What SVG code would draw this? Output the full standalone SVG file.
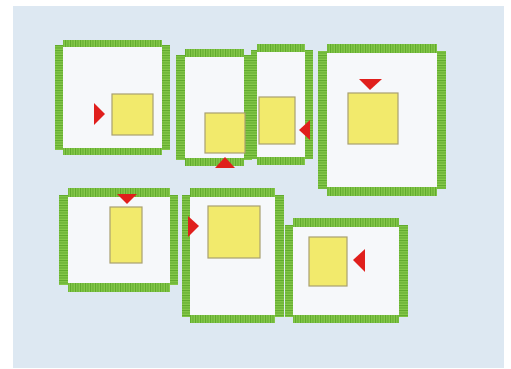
<svg xmlns="http://www.w3.org/2000/svg" width="511" height="369" viewBox="0 0 511 369">
<defs>
<pattern id="pv" patternUnits="userSpaceOnUse" width="2.5" height="4"><rect width="2.5" height="4" fill="#86c94a"/><rect width="1" height="4" fill="#5ea82c"/></pattern>
<pattern id="ph" patternUnits="userSpaceOnUse" width="4" height="2.5"><rect width="4" height="2.5" fill="#86c94a"/><rect width="4" height="1" fill="#5ea82c"/></pattern>
</defs>
<style>
.h{fill:url(#pv)}
.v{fill:url(#ph)}
.b{fill:#f6f8fa}
.y{fill:#f2ea6c;stroke:#a8a070;stroke-width:1.2}
.t{fill:#e01f1c}
</style>
<rect x="0" y="0" width="511" height="369" fill="#ffffff"/>
<rect x="13" y="6" width="491" height="362" fill="#dde8f2"/>
<g id="chip1">
<rect class="h" x="63" y="40" width="99" height="7"/>
<rect class="h" x="63" y="148" width="99" height="7"/>
<rect class="v" x="55" y="45" width="8" height="105"/>
<rect class="v" x="162" y="45" width="8" height="105"/>
<rect class="b" x="63" y="47" width="99" height="101"/>
<rect class="y" x="112" y="94" width="41" height="41"/>
<polygon class="t" points="94,103 105,114 94,125"/>
</g>
<g id="chip2">
<rect class="h" x="185" y="49" width="59" height="8"/>
<rect class="h" x="185" y="158" width="59" height="8"/>
<rect class="v" x="176" y="55" width="9" height="105"/>
<rect class="v" x="244" y="55" width="8" height="105"/>
<rect class="b" x="185" y="57" width="59" height="101"/>
<rect class="y" x="205" y="113" width="40" height="40"/>
<polygon class="t" points="215,168 225,157 235,168"/>
</g>
<g id="chip3">
<rect class="h" x="257" y="44" width="48" height="8"/>
<rect class="h" x="257" y="157" width="48" height="8"/>
<rect class="v" x="251" y="50" width="6" height="109"/>
<rect class="v" x="305" y="50" width="8" height="109"/>
<rect class="b" x="257" y="52" width="48" height="105"/>
<rect class="y" x="259" y="97" width="36" height="47"/>
<polygon class="t" points="310,120 299,130 310,140"/>
</g>
<g id="chip4">
<rect class="h" x="327" y="44" width="110" height="9"/>
<rect class="h" x="327" y="187" width="110" height="9"/>
<rect class="v" x="318" y="51" width="9" height="138"/>
<rect class="v" x="437" y="51" width="9" height="138"/>
<rect class="b" x="327" y="53" width="110" height="134"/>
<rect class="y" x="348" y="93" width="50" height="51"/>
<polygon class="t" points="359,79 382,79 370,90"/>
</g>
<g id="chip5">
<rect class="h" x="68" y="188" width="102" height="9"/>
<rect class="h" x="68" y="283" width="102" height="9"/>
<rect class="v" x="59" y="195" width="9" height="90"/>
<rect class="v" x="170" y="195" width="8" height="90"/>
<rect class="b" x="68" y="197" width="102" height="86"/>
<rect class="y" x="110" y="207" width="32" height="56"/>
<polygon class="t" points="117,194 137,194 127,204"/>
</g>
<g id="chip6">
<rect class="h" x="190" y="188" width="85" height="9"/>
<rect class="h" x="190" y="315" width="85" height="8"/>
<rect class="v" x="182" y="195" width="8" height="122"/>
<rect class="v" x="275" y="195" width="9" height="122"/>
<rect class="b" x="190" y="197" width="85" height="118"/>
<rect class="y" x="208" y="206" width="52" height="52"/>
<polygon class="t" points="188,216 199,226 188,237"/>
</g>
<g id="chip7">
<rect class="h" x="293" y="218" width="106" height="9"/>
<rect class="h" x="293" y="315" width="106" height="8"/>
<rect class="v" x="285" y="225" width="8" height="92"/>
<rect class="v" x="399" y="225" width="9" height="92"/>
<rect class="b" x="293" y="227" width="106" height="88"/>
<rect class="y" x="309" y="237" width="38" height="49"/>
<polygon class="t" points="365,249 353,260 365,272"/>
</g>
<g id="connectors"/>
</svg>
